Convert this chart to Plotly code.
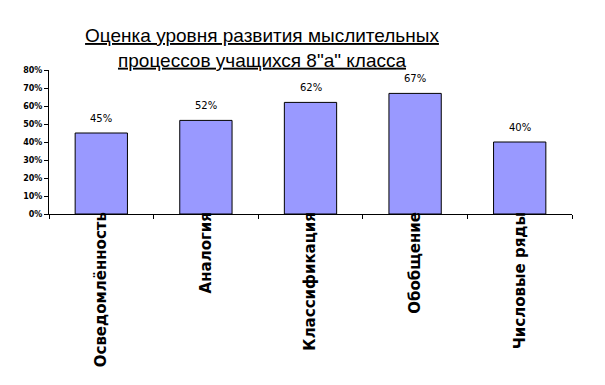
import plotly.graph_objects as go

categories = ["Осведомлённость", "Аналогия", "Классификация", "Обобщение", "Числовые ряды"]
values = [0.45, 0.52, 0.62, 0.67, 0.40]
labels = ["45%", "52%", "62%", "67%", "40%"]
title_lines = ["Оценка уровня развития мыслительных", "процессов учащихся 8\"а\" класса"]

fig = go.Figure()
fig.add_trace(go.Bar(
    x=categories, y=values, width=0.5,
    marker=dict(color="#9999FF", line=dict(color="black", width=1)),
    hoverinfo="skip",
))
for c, v, t in zip(categories, values, labels):
    fig.add_annotation(x=c, y=v, text=t, showarrow=False, yshift=15,
                       font=dict(family="DejaVu Sans", size=10, color="black"))

fig.update_layout(
    width=605, height=385,
    margin=dict(l=49, r=33, t=70, b=171),
    paper_bgcolor="white", plot_bgcolor="white",
    showlegend=False,
    title=dict(
        text="<br>".join("<u>" + s + "</u>" for s in title_lines),
        x=262 / 605, xanchor="center", xref="container",
        y=1 - 42 / 385, yanchor="middle", yref="container",
        font=dict(family="Liberation Sans", size=19, color="black"),
    ),
)
fig.update_xaxes(
    showline=True, linecolor="black", linewidth=1,
    ticks="outside", ticklen=4, tickcolor="black", tickson="boundaries",
    tickangle=-90, showgrid=False, ticklabelstandoff=-9,
    tickfont=dict(family="DejaVu Sans", size=15, color="black", weight="bold"),
)
fig.update_yaxes(
    range=[0, 0.8], dtick=0.1, tickformat=".0%",
    showline=True, linecolor="black", linewidth=1,
    ticks="outside", ticklen=4, tickcolor="black", showgrid=False, zeroline=False,
    tickfont=dict(family="DejaVu Sans", size=8, color="black", weight="bold"),
)

fig.write_html("out.html")
